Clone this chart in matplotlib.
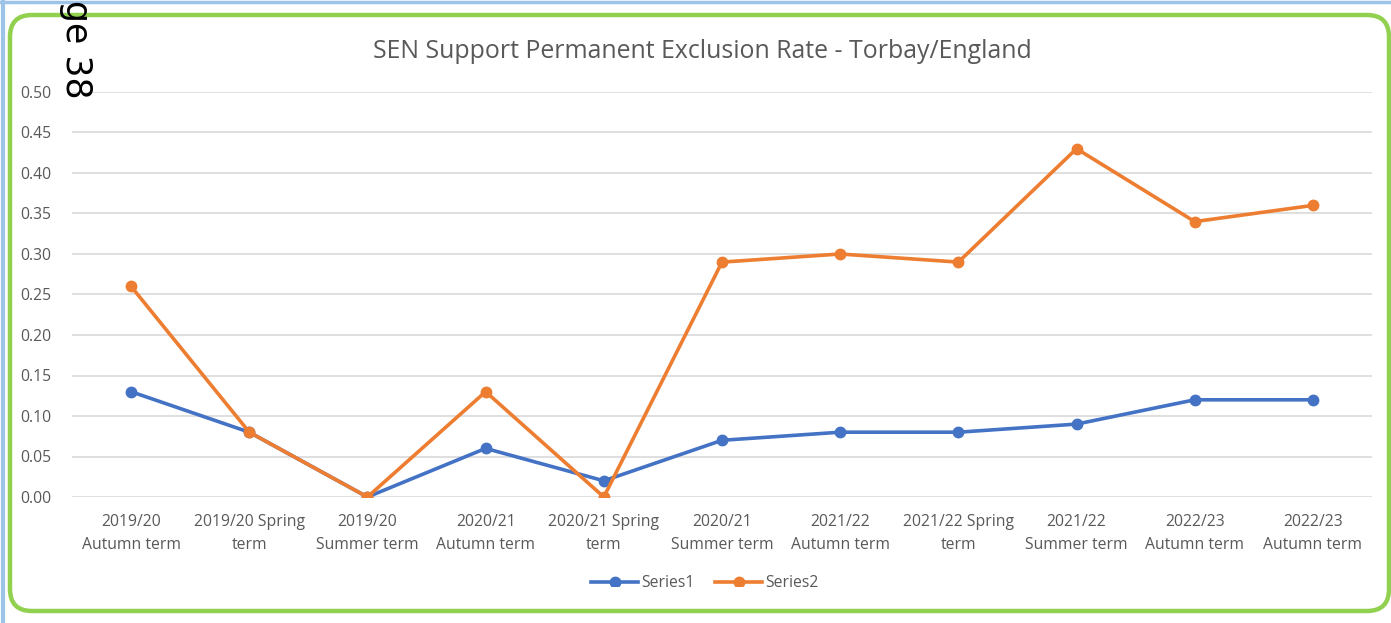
import matplotlib
matplotlib.use("Agg")
import matplotlib.pyplot as plt
from matplotlib.patches import FancyBboxPatch, Rectangle
from matplotlib.lines import Line2D

categories = ["2019/20\nAutumn term", "2019/20 Spring\nterm", "2019/20\nSummer term",
              "2020/21\nAutumn term", "2020/21 Spring\nterm", "2020/21\nSummer term",
              "2021/22\nAutumn term", "2021/22 Spring\nterm", "2021/22\nSummer term",
              "2022/23\nAutumn term", "2022/23\nAutumn term"]
series1 = [0.13, 0.08, 0.00, 0.06, 0.02, 0.07, 0.08, 0.08, 0.09, 0.12, 0.12]
series2 = [0.26, 0.08, 0.00, 0.13, 0.00, 0.29, 0.30, 0.29, 0.43, 0.34, 0.36]
yticks = [0.00, 0.05, 0.10, 0.15, 0.20, 0.25, 0.30, 0.35, 0.40, 0.45, 0.50]
title = "SEN Support Permanent Exclusion Rate - Torbay/England"

plt.rcParams['font.family'] = ['Open Sans', 'DejaVu Sans']

W, H = 1391, 623
fig = plt.figure(figsize=(W / 100, H / 100), dpi=100)
fig.patch.set_facecolor('white')


def px(x, y):
    """pixel (from top-left) -> inches (from bottom-left)"""
    return x / 100, (H - y) / 100


# page edge lines (light blue)
fig.add_artist(Line2D([0, 1], [1 - 1.5 / H, 1 - 1.5 / H], color='#9DC3E6', lw=2.5, transform=fig.transFigure))
fig.add_artist(Line2D([2.5 / W, 2.5 / W], [0, 1], color='#9DC3E6', lw=3, transform=fig.transFigure))

# green rounded border (pixel-based)
bx0, by_top, bx1, by_bot = 10, 15, 1389, 611
x0, y0 = px(bx0, by_bot)
border = FancyBboxPatch((x0, y0), (bx1 - bx0) / 100, (by_bot - by_top) / 100,
                        boxstyle="round,pad=0,rounding_size=0.22",
                        transform=fig.dpi_scale_trans, fill=False, edgecolor='#92D050',
                        lw=3.2, zorder=10)
fig.add_artist(border)

ax = fig.add_axes([72 / W, 1 - 497 / H, (1372 - 72) / W, (497 - 92) / H])
x = list(range(len(categories)))
ax.plot(x, series1, color='#4472C4', lw=2.6, marker='o', markersize=7.5, label='Series1', zorder=3)
ax.plot(x, series2, color='#ED7D31', lw=2.6, marker='o', markersize=7.5, label='Series2', zorder=3)

ax.set_xlim(-0.5, len(categories) - 0.5)
ax.set_ylim(0, 0.5)
ax.set_yticks(yticks)
ax.set_yticklabels([f"{v:.2f}" for v in yticks])
ax.set_xticks(x)
ax.set_xticklabels(categories, linespacing=1.58)
ax.grid(axis='y', color='#D9D9D9', lw=1.2)
ax.set_axisbelow(True)
for s in ax.spines.values():
    s.set_visible(False)
ax.tick_params(axis='both', length=0, labelsize=11.3, labelcolor='#595959')
ax.tick_params(axis='x', pad=12)
ax.tick_params(axis='y', pad=15)

fig.text(702 / W, 1 - 52 / H, title, ha='center', va='center', fontsize=17.9, color='#595959')

leg = ax.legend(loc='center', bbox_to_anchor=(705 / W, 1 - 583 / H), bbox_transform=fig.transFigure,
                ncol=2, frameon=False, fontsize=11.3, labelcolor='#595959', handlelength=3,
                columnspacing=1.3, handletextpad=0.2)

# clip bottom of legend (as in the scanned page)
cx, cy = px(400, 607)
fig.add_artist(Rectangle((cx, cy), 6.0, (607 - 587) / 100,
                         transform=fig.dpi_scale_trans, facecolor='white', edgecolor='none', zorder=9))

# rotated page label
fig.text(76 / W, 1 - 0 / H, "ge 38", rotation=-90, ha='center', va='top', fontsize=25,
         color='black', family=['DejaVu Sans'], zorder=11)

fig.savefig("out.png", dpi=100)
